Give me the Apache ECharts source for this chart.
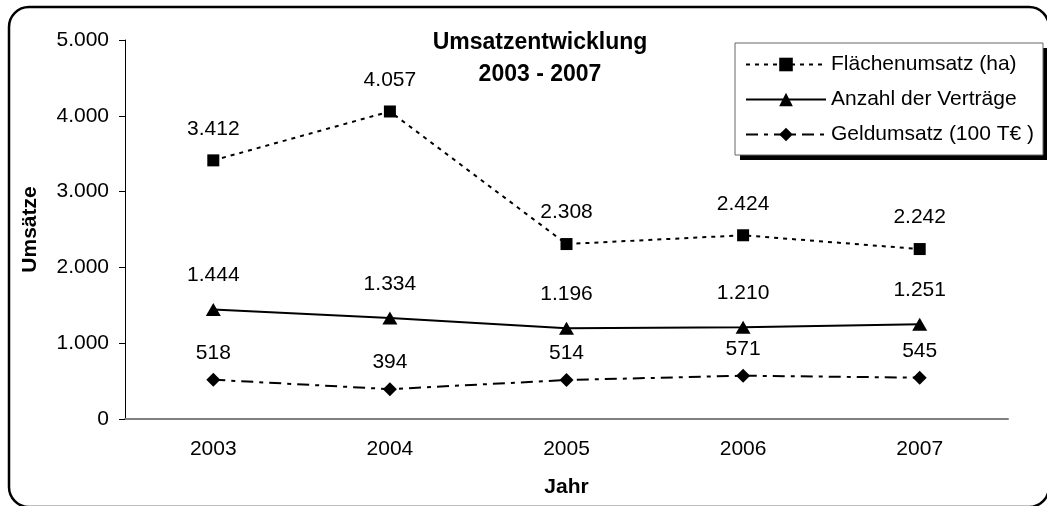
<!DOCTYPE html>
<html>
<head>
<meta charset="utf-8">
<script src="https://cdn.jsdelivr.net/npm/echarts@6/dist/echarts.min.js"></script>
<style>
  html, body { margin: 0; padding: 0; background: #fff; }
  #chart { width: 1047px; height: 506px; }
</style>
</head>
<body>
<div id="chart"></div>
<script>
var years = ['2003', '2004', '2005', '2006', '2007'];
var flaechenumsatz = [3412, 4057, 2308, 2424, 2242];
var anzahlVertraege = [1444, 1334, 1196, 1210, 1251];
var geldumsatz = [518, 394, 514, 571, 545];
var yTicks = { min: 0, max: 5000, interval: 1000 };

// Tausenderpunkt wie im Original (3.412)
function fmt(v) {
  return String(v).replace(/\B(?=(\d{3})+(?!\d))/g, '.');
}

var font = 'Liberation Sans, Arial, sans-serif';
var chart = echarts.init(document.getElementById('chart'));

function labelOpts(dist) {
  return {
    show: true,
    position: 'top',
    distance: dist,
    color: '#000',
    fontSize: 21,
    fontFamily: font,
    formatter: function (p) { return fmt(p.value); }
  };
}

var option = {
  backgroundColor: '#fff',
  animation: false,
  title: {
    text: 'Umsatzentwicklung\n2003 - 2007',
    left: 535,
    top: 22,
    textAlign: 'center',
    textStyle: { fontFamily: font, fontSize: 23, fontWeight: 'bold', color: '#000', lineHeight: 32 }
  },
  legend: {
    orient: 'vertical',
    left: 735,
    top: 43,
    padding: [11, 10, 11, 10],
    itemWidth: 80,
    itemHeight: 17,
    itemGap: 14,
    z: 10,
    textStyle: { fontFamily: font, fontSize: 21, color: '#000' },
    data: ['Flächenumsatz (ha)', 'Anzahl der Verträge', 'Geldumsatz (100 T€ )']
  },
  graphic: [
    // Legendenkasten mit Schatten
    {
      type: 'rect', z: 1,
      shape: { x: 740, y: 48, width: 308, height: 112 },
      style: { fill: '#000' }
    },
    {
      type: 'rect', z: 2,
      shape: { x: 735, y: 43, width: 308, height: 112 },
      style: { fill: '#fff', stroke: '#666', lineWidth: 1 }
    },
    // abgerundeter Rahmen
    {
      type: 'rect', z: 100,
      shape: { x: 9, y: 7, width: 1040, height: 500, r: 20 },
      style: { fill: 'none', stroke: '#000', lineWidth: 2.5 }
    }
  ],
  grid: { left: 125, right: 39, top: 40, bottom: 87 },
  xAxis: {
    type: 'category',
    data: years,
    name: 'Jahr',
    nameLocation: 'middle',
    nameGap: 58,
    nameTextStyle: { fontFamily: font, fontSize: 21, fontWeight: 'bold', color: '#000' },
    axisLine: { lineStyle: { color: '#808080', width: 2 } },
    axisTick: { length: 6, lineStyle: { color: '#808080', width: 1 } },
    axisLabel: { margin: 20, fontFamily: font, fontSize: 21, color: '#000' },
    splitLine: { show: false }
  },
  yAxis: {
    type: 'value',
    min: yTicks.min,
    max: yTicks.max,
    interval: yTicks.interval,
    name: 'Umsätze',
    nameLocation: 'middle',
    nameGap: 84,
    nameTextStyle: { fontFamily: font, fontSize: 21, fontWeight: 'bold', color: '#000' },
    axisLine: { show: true, lineStyle: { color: '#000', width: 1 } },
    axisTick: { show: true, length: 6, lineStyle: { color: '#000' } },
    axisLabel: { margin: 16, fontFamily: font, fontSize: 21, color: '#000', formatter: fmt },
    splitLine: { show: false }
  },
  series: [
    {
      name: 'Flächenumsatz (ha)',
      type: 'line',
      data: flaechenumsatz,
      symbol: 'rect',
      symbolSize: 12,
      itemStyle: { color: '#000' },
      lineStyle: { color: '#000', width: 2, type: [4, 5] },
      label: labelOpts(15)
    },
    {
      name: 'Anzahl der Verträge',
      type: 'line',
      data: anzahlVertraege,
      symbol: 'triangle',
      symbolSize: [15, 13],
      itemStyle: { color: '#000' },
      lineStyle: { color: '#000', width: 2, type: 'solid' },
      label: labelOpts(17)
    },
    {
      name: 'Geldumsatz (100 T€ )',
      type: 'line',
      data: geldumsatz,
      symbol: 'diamond',
      symbolSize: 14,
      itemStyle: { color: '#000' },
      lineStyle: { color: '#000', width: 2, type: [12, 6, 4, 6] },
      label: labelOpts(9)
    }
  ]
};

chart.setOption(option);
</script>
</body>
</html>
